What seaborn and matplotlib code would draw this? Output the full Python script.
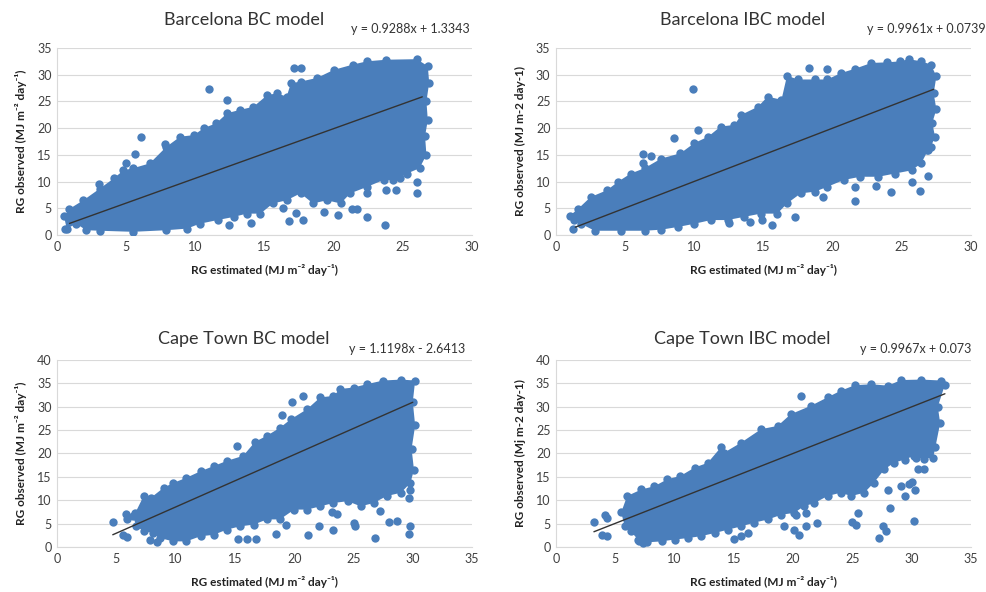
import matplotlib
matplotlib.use("Agg")
import matplotlib.pyplot as plt
import seaborn as sns

sns.set_theme(style="white")
plt.rcParams["font.family"] = ["Lato", "DejaVu Sans"]

point_color = "#4a7ebb"
grid_color = "#d9d9d9"

# Barcelona BC: outline of the dense cloud (clockwise from the left) and stray points
bcn_bc_edge_x = [0.5, 0.9, 1.9, 3.1, 4.1, 4.8, 5.5, 6.7, 7.9, 8.9, 9.9, 10.6, 11.5, 12.3, 13.2,
                 14.2, 15.2, 15.9, 16.6, 16.9, 17.6, 18.8, 20.0, 21.4, 22.4, 23.8, 26.0, 26.8,
                 26.9, 26.7, 26.8, 26.6, 26.7, 26.2, 25.3, 24.8, 24.3, 23.6, 22.4, 21.2, 20.5,
                 19.5, 18.5, 17.6, 16.6, 15.6, 14.7, 13.7, 12.8, 11.6, 10.3, 9.4, 7.9, 5.5, 3.1,
                 2.1, 1.4, 0.7]
bcn_bc_edge_y = [3.5, 4.9, 6.5, 8.7, 10.6, 12.1, 12.5, 13.4, 16.5, 18.4, 18.7, 20.0, 20.9, 22.8,
                 23.4, 24.0, 26.2, 26.5, 25.9, 28.4, 28.7, 29.4, 30.9, 31.9, 32.5, 32.8, 32.9,
                 31.6, 28.5, 25.0, 21.5, 18.5, 15.0, 12.5, 11.5, 10.7, 10.3, 10.3, 9.0, 7.8, 5.9,
                 6.5, 5.9, 7.8, 6.5, 5.9, 4.0, 4.0, 3.4, 2.8, 2.1, 1.2, 0.9, 0.6, 0.8, 0.9, 2.1,
                 1.2]
bcn_bc_out_x = [0.6, 3.0, 5.0, 5.6, 6.1, 7.8, 11.0, 12.3, 17.1, 17.6, 26.0, 26.0, 23.7, 22.4,
                17.8, 16.8, 16.3, 17.3, 14.0, 12.4, 19.3, 20.3, 21.3, 21.7, 24.5, 23.8, 22.4]
bcn_bc_out_y = [1.2, 9.5, 13.4, 15.2, 18.3, 17.0, 27.3, 25.2, 31.2, 31.2, 9.9, 7.9, 1.8, 3.4,
                2.8, 2.6, 5.0, 4.1, 2.2, 1.8, 4.3, 3.8, 4.8, 4.8, 8.5, 8.5, 7.9]
bcn_bc_line_x = [0.9, 26.4]
bcn_bc_coef = (0.9288, 1.3343)

# Barcelona IBC
bcn_ibc_edge_x = [1.0, 1.6, 2.5, 3.7, 4.5, 5.4, 6.4, 7.6, 9.0, 10.0, 11.0, 11.9, 12.9, 13.4,
                  14.6, 15.3, 16.3, 16.7, 17.5, 18.7, 19.6, 20.6, 21.6, 22.8, 23.9, 24.9, 25.5,
                  26.4, 27.1, 27.5, 27.3, 27.5, 27.2, 27.4, 27.1, 26.9, 26.4, 25.7, 24.5, 23.3,
                  22.0, 20.8, 19.6, 18.7, 17.7, 16.7, 16.0, 14.8, 13.6, 12.4, 11.2, 10.0, 8.8,
                  7.6, 6.4, 4.7, 2.8, 1.8, 1.3]
bcn_ibc_edge_y = [3.6, 4.9, 7.1, 8.4, 10.0, 11.5, 12.5, 14.3, 15.3, 17.2, 18.4, 20.3, 20.6, 22.5,
                  24.0, 25.9, 25.3, 29.8, 29.1, 29.1, 29.1, 30.3, 31.1, 32.2, 32.3, 32.5, 32.9,
                  32.5, 31.9, 29.7, 26.5, 23.5, 21.0, 18.4, 16.5, 15.9, 13.4, 12.1, 11.5, 10.9,
                  10.9, 10.3, 9.0, 8.1, 7.8, 5.9, 4.0, 4.0, 3.4, 2.8, 2.8, 2.1, 1.5, 1.0, 0.8,
                  0.8, 0.8, 2.1, 2.8]
bcn_ibc_out_x = [1.2, 6.3, 6.3, 6.9, 8.5, 9.9, 10.3, 18.3, 19.6, 15.6, 14.9, 17.3, 14.0, 12.5,
                 19.3, 21.6, 21.6, 23.1, 24.2, 25.7, 26.3, 26.9, 26.8]
bcn_ibc_out_y = [1.2, 15.2, 13.4, 14.8, 18.2, 27.3, 19.6, 31.2, 31.1, 1.8, 2.8, 3.4, 2.5, 2.2,
                 7.1, 6.4, 8.9, 9.2, 8.0, 9.9, 8.3, 11.1, 16.0]
bcn_ibc_line_x = [1.4, 27.3]
bcn_ibc_coef = (0.9961, 0.0739)

# Cape Town BC
cpt_bc_edge_x = [6.4, 6.6, 7.3, 7.9, 9.0, 9.8, 10.9, 12.1, 13.2, 14.3, 15.7, 16.7, 17.7, 18.8,
                 19.7, 21.1, 22.2, 23.3, 23.9, 25.0, 26.1, 27.5, 29.0, 30.2, 30.0, 30.2, 29.9,
                 30.1, 29.8, 29.0, 27.8, 26.7, 25.6, 24.5, 23.3, 22.2, 21.1, 20.0, 18.8, 17.7,
                 16.6, 15.4, 14.3, 13.2, 12.1, 10.9, 9.8, 8.7, 8.1, 7.3, 6.7]
cpt_bc_edge_y = [6.6, 7.3, 10.9, 10.5, 12.7, 13.7, 14.8, 16.2, 17.3, 18.4, 19.5, 22.5, 23.8, 25.5,
                 27.3, 29.5, 32.0, 32.3, 33.8, 34.1, 34.8, 35.6, 35.8, 35.6, 31.0, 26.0, 21.0,
                 16.5, 13.7, 11.6, 10.9, 9.4, 8.7, 9.8, 9.4, 8.7, 8.0, 8.0, 5.9, 5.9, 4.8, 4.4,
                 3.7, 2.6, 2.3, 1.2, 1.2, 1.9, 3.0, 3.4, 4.4]
cpt_bc_out_x = [4.7, 5.8, 5.9, 5.6, 5.9, 8.4, 7.8, 15.2, 19.0, 19.8, 20.7, 29.8, 29.7, 29.8,
                29.7, 15.3, 16.0, 16.8, 18.5, 19.3, 21.2, 22.1, 23.3, 25.0, 25.1, 26.8, 28.0,
                28.7, 27.2, 23.2, 23.6]
cpt_bc_out_y = [5.3, 7.0, 6.0, 2.6, 2.2, 1.0, 1.4, 21.5, 28.3, 30.9, 32.3, 12.2, 10.4, 4.4,
                2.8, 1.8, 1.8, 1.7, 2.8, 4.8, 2.6, 4.5, 3.7, 5.2, 4.5, 1.9, 5.3, 5.6, 7.8, 7.5,
                7.0]
cpt_bc_line_x = [4.7, 30.0]
cpt_bc_coef = (1.1198, -2.6413)

# Cape Town IBC
cpt_ibc_edge_x = [5.5, 6.0, 7.2, 8.3, 9.4, 10.5, 11.7, 12.8, 13.9, 14.2, 15.6, 17.3, 18.7, 19.8,
                  21.5, 22.9, 24.0, 25.2, 26.6, 28.0, 29.1, 30.8, 32.5, 32.8, 32.2, 32.4, 32.0,
                  31.8, 30.4, 30.2, 29.4, 28.5, 27.7, 26.8, 26.0, 24.9, 24.0, 22.9, 21.8, 20.9,
                  20.1, 19.0, 17.9, 16.7, 15.6, 14.5, 13.4, 12.2, 11.1, 10.0, 8.9, 7.7, 6.9, 6.3,
                  5.8]
cpt_ibc_edge_y = [7.4, 10.9, 12.3, 13.0, 14.5, 15.2, 17.0, 18.0, 21.3, 20.2, 22.3, 25.2, 25.9,
                  28.4, 30.2, 32.0, 33.4, 34.6, 34.8, 34.5, 35.7, 35.8, 35.6, 34.7, 30.0, 26.5,
                  21.4, 19.0, 19.0, 19.5, 18.7, 18.0, 16.6, 13.7, 11.6, 10.9, 11.6, 10.9, 9.4,
                  8.7, 7.3, 6.9, 5.9, 5.2, 4.4, 3.7, 3.0, 2.3, 1.9, 1.6, 1.2, 1.0, 1.6, 3.4, 4.4]
cpt_ibc_out_x = [3.2, 4.1, 4.3, 3.9, 4.3, 7.0, 7.3, 20.7, 15.0, 15.6, 16.2, 19.2, 20.1, 20.5,
                 20.2, 21.1, 22.0, 21.1, 25.0, 25.3, 25.5, 27.2, 27.8, 27.6, 30.2, 28.2, 28.0,
                 29.1, 29.8, 30.0, 30.3, 30.5, 31.0, 31.0, 29.4]
cpt_ibc_out_y = [5.4, 6.8, 6.1, 2.6, 2.3, 1.2, 0.9, 32.3, 1.8, 2.3, 3.0, 4.4, 3.7, 2.6, 6.8,
                 7.2, 5.1, 4.5, 5.3, 4.6, 7.2, 1.9, 3.4, 4.4, 5.6, 8.3, 12.2, 13.0, 13.4, 14.0,
                 12.2, 16.6, 16.6, 18.8, 10.8]
cpt_ibc_line_x = [3.2, 32.8]
cpt_ibc_coef = (0.9967, 0.073)

xlab = "RG estimated (MJ m\u207b\u00b2 day\u207b\u00b9)"
ylab_sup = "RG observed (MJ m\u207b\u00b2 day\u207b\u00b9)"

fig = plt.figure(figsize=(9.87, 5.92), dpi=100)


def draw_panel(rect, edge_x, edge_y, out_x, out_y, line_x, coef, xmax, ymax,
               title, equation, ylabel, eq_x, eq_y):
    ax = fig.add_axes(rect)
    ax.fill(edge_x, edge_y, color=point_color, lw=0, zorder=2)
    sns.scatterplot(x=edge_x + out_x, y=edge_y + out_y, color=point_color, s=36,
                    linewidth=0, ax=ax, zorder=3)
    slope, intercept = coef
    line_y = [slope * v + intercept for v in line_x]
    sns.lineplot(x=line_x, y=line_y, color="#333333", linewidth=1.0, ax=ax, zorder=4)

    ax.set_xlim(0, xmax)
    ax.set_ylim(0, ymax)
    ax.set_xticks(range(0, xmax + 1, 5))
    ax.set_yticks(range(0, ymax + 1, 5))
    ax.yaxis.grid(True, color=grid_color, linewidth=0.8, zorder=0)
    ax.set_axisbelow(True)
    for side in ["top", "right"]:
        ax.spines[side].set_visible(False)
    for side in ["left", "bottom"]:
        ax.spines[side].set_color(grid_color)
        ax.spines[side].set_linewidth(0.8)
    ax.tick_params(axis="both", length=0, labelsize=9, labelcolor="#404040", pad=4)
    ax.set_xlabel(xlab, fontsize=8.5, fontweight="bold", color="#222222", labelpad=8)
    ax.set_ylabel(ylabel, fontsize=8.5, fontweight="bold", color="#222222", labelpad=7)
    ax.text(0.45, eq_y + 0.05, title, transform=ax.transAxes, ha="center", va="center",
            fontsize=13, color="#333333")
    ax.text(eq_x, eq_y, equation, transform=ax.transAxes, ha="right", va="center",
            fontsize=9, color="#333333")
    return ax


draw_panel([0.0578, 0.603, 0.4205, 0.316], bcn_bc_edge_x, bcn_bc_edge_y, bcn_bc_out_x,
           bcn_bc_out_y, bcn_bc_line_x, bcn_bc_coef, 30, 35, "Barcelona BC model",
           "y = 0.9288x + 1.3343", ylab_sup, 0.995, 1.10)
draw_panel([0.5633, 0.603, 0.4205, 0.316], bcn_ibc_edge_x, bcn_ibc_edge_y, bcn_ibc_out_x,
           bcn_ibc_out_y, bcn_ibc_line_x, bcn_ibc_coef, 30, 35, "Barcelona IBC model",
           "y = 0.9961x + 0.0739", "RG observed (MJ m-2 day-1)", 1.035, 1.10)
draw_panel([0.0578, 0.076, 0.4205, 0.316], cpt_bc_edge_x, cpt_bc_edge_y, cpt_bc_out_x,
           cpt_bc_out_y, cpt_bc_line_x, cpt_bc_coef, 35, 40, "Cape Town BC model",
           "y = 1.1198x - 2.6413", ylab_sup, 0.983, 1.06)
draw_panel([0.5633, 0.076, 0.4205, 0.316], cpt_ibc_edge_x, cpt_ibc_edge_y, cpt_ibc_out_x,
           cpt_ibc_out_y, cpt_ibc_line_x, cpt_ibc_coef, 35, 40, "Cape Town IBC model",
           "y = 0.9967x + 0.073", "RG observed (Mj m-2 day-1)", 1.0, 1.06)

fig.savefig("out.png", dpi=100)
